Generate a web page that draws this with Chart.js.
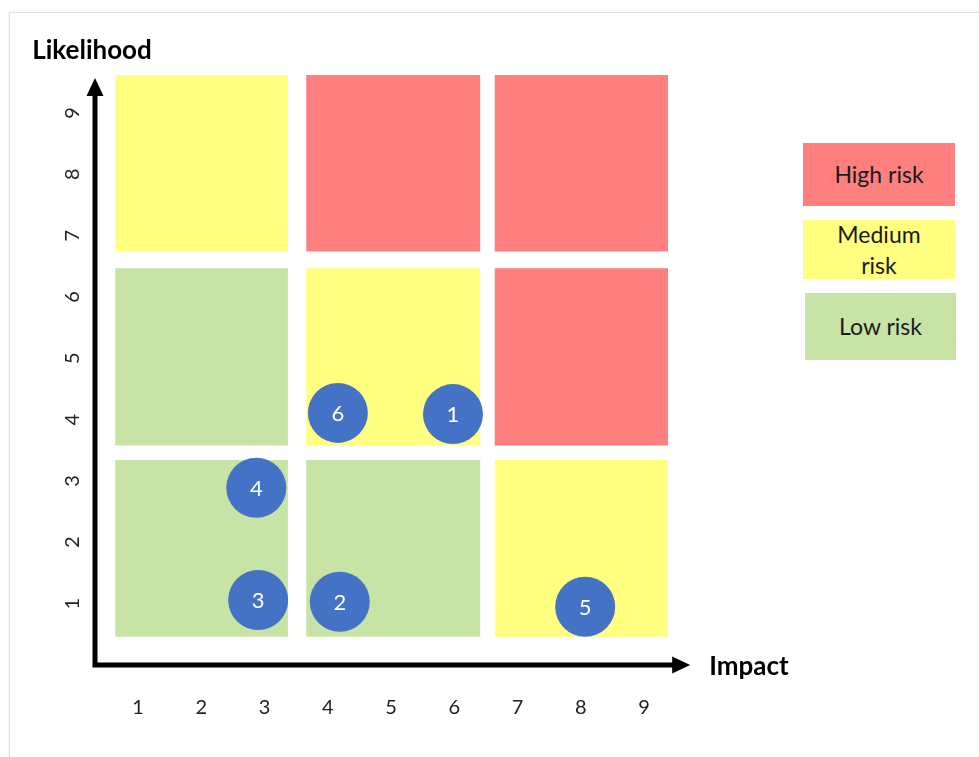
<!DOCTYPE html>
<html>
<head>
<meta charset="utf-8">
<title>Risk matrix</title>
<script src="https://cdn.jsdelivr.net/npm/chart.js@4.4.1/dist/chart.umd.min.js"></script>
<style>
  html, body { margin: 0; padding: 0; background: #fff; }
  body { width: 979px; height: 757px; position: relative; overflow: hidden; font-family: Lato, 'Open Sans', sans-serif; }
  .frame { position: absolute; left: 9px; top: 12px; right: -2px; bottom: -2px; border-top: 1px solid #e2e2e2; border-left: 1px solid #e2e2e2; box-shadow: -1px -1px 2px rgba(0,0,0,0.04); }
  #wrap { position: absolute; left: 0; top: 0; width: 979px; height: 757px; }
  .legend-box { position: absolute; display: flex; align-items: center; justify-content: center; text-align: center; font-size: 23px; line-height: 31px; color: #1a1a1a; }
  .legend-box span { max-width: 110px; }
</style>
</head>
<body>
<div class="frame"></div>
<div id="wrap"><canvas id="riskChart"></canvas></div>
<div id="legend"></div>
<script>
/* -------------------------
   Data
   ------------------------- */
const impactTicks = [1, 2, 3, 4, 5, 6, 7, 8, 9];
const likelihoodTicks = [1, 2, 3, 4, 5, 6, 7, 8, 9];

// extent of each band of cells, in axis units
const impactBands = [[0.64, 3.37], [3.66, 6.41], [6.64, 9.38]];
const likelihoodBands = [[0.46, 3.34], [3.58, 6.47], [6.74, 9.62]];

// risk level of each cell, bottom row first
const riskGrid = [
  ['low', 'low', 'medium'],
  ['low', 'medium', 'high'],
  ['medium', 'high', 'high']
];

// numbered risks
const riskIds = ['1', '6', '4', '3', '2', '5'];
const riskImpact = [5.98, 4.16, 2.87, 2.90, 4.19, 8.07];
const riskLikelihood = [4.09, 4.11, 2.89, 1.06, 1.03, 0.95];

const legendLevels = ['high', 'medium', 'low'];
const legendLabels = ['High risk', 'Medium risk', 'Low risk'];

const levelColors = { high: '#ff7f7f', medium: '#ffff80', low: '#c8e3a6' };
const bubbleColor = '#4472c4';
const fontFamily = "Lato, 'Open Sans', sans-serif";

/* -------------------------
   Legend (html boxes)
   ------------------------- */
const legendPos = [
  { left: 803, top: 143, width: 152, height: 63 },
  { left: 803, top: 220, width: 152, height: 59 },
  { left: 805, top: 293, width: 151, height: 67 }
];
const legendEl = document.getElementById('legend');
legendLevels.forEach((lvl, i) => {
  const box = document.createElement('div');
  box.className = 'legend-box';
  const p = legendPos[i];
  box.style.left = p.left + 'px';
  box.style.top = p.top + 'px';
  box.style.width = p.width + 'px';
  box.style.height = p.height + 'px';
  box.style.background = levelColors[lvl];
  const span = document.createElement('span');
  span.textContent = legendLabels[i];
  box.appendChild(span);
  legendEl.appendChild(box);
});

/* -------------------------
   Cells -> closed line shapes
   ------------------------- */
const cellSets = [];
likelihoodBands.forEach((yb, r) => {
  impactBands.forEach((xb, c) => {
    const lvl = riskGrid[r][c];
    cellSets.push({
      type: 'line',
      order: 1,
      data: [
        { x: xb[0], y: yb[0] },
        { x: xb[1], y: yb[0] },
        { x: xb[1], y: yb[1] },
        { x: xb[0], y: yb[1] },
        { x: xb[0], y: yb[0] }
      ],
      fill: 'shape',
      backgroundColor: levelColors[lvl],
      borderColor: 'transparent',
      borderWidth: 0,
      pointRadius: 0,
      tension: 0
    });
  });
});

const bubbleSet = {
  type: 'bubble',
  order: 0,
  data: riskIds.map((id, i) => ({ x: riskImpact[i], y: riskLikelihood[i] })),
  backgroundColor: bubbleColor,
  borderWidth: 0,
  radius: 30
};

/* -------------------------
   Plugins: arrows + titles, bubble numbers
   ------------------------- */
const arrowAxes = {
  id: 'arrowAxes',
  beforeDatasetsDraw(chart) {
    const { ctx, chartArea, scales } = chart;
    const x0 = chartArea.left;
    const y0 = chartArea.bottom;
    const tipX = scales.x.getPixelForValue(9.73);
    const tipY = scales.y.getPixelForValue(9.57);
    const head = 18, half = 8.5;
    ctx.save();
    ctx.strokeStyle = '#000';
    ctx.fillStyle = '#000';
    ctx.lineWidth = 5;
    ctx.lineJoin = 'miter';
    ctx.beginPath();
    ctx.moveTo(x0, tipY + head - 1);
    ctx.lineTo(x0, y0);
    ctx.lineTo(tipX - head + 1, y0);
    ctx.stroke();
    // heads
    ctx.beginPath();
    ctx.moveTo(tipX, y0);
    ctx.lineTo(tipX - head, y0 - half);
    ctx.lineTo(tipX - head, y0 + half);
    ctx.closePath();
    ctx.fill();
    ctx.beginPath();
    ctx.moveTo(x0, tipY);
    ctx.lineTo(x0 - half, tipY + head);
    ctx.lineTo(x0 + half, tipY + head);
    ctx.closePath();
    ctx.fill();
    // axis titles
    ctx.font = 'bold 26px ' + fontFamily;
    ctx.textBaseline = 'middle';
    ctx.textAlign = 'center';
    ctx.fillText('Likelihood', x0 - 3, tipY - 27);
    ctx.textAlign = 'left';
    ctx.fillText('Impact', tipX + 19, y0 + 2);
    ctx.restore();
  }
};

const bubbleNumbers = {
  id: 'bubbleNumbers',
  afterDatasetsDraw(chart) {
    const { ctx } = chart;
    const meta = chart.getDatasetMeta(chart.data.datasets.length - 1);
    ctx.save();
    ctx.font = '22px ' + fontFamily;
    ctx.fillStyle = '#fff';
    ctx.textAlign = 'center';
    ctx.textBaseline = 'middle';
    meta.data.forEach((pt, i) => ctx.fillText(riskIds[i], pt.x, pt.y + 1));
    ctx.restore();
  }
};

new Chart(document.getElementById('riskChart'), {
  type: 'scatter',
  data: { datasets: [...cellSets, bubbleSet] },
  options: {
    responsive: true,
    maintainAspectRatio: false,
    animation: false,
    events: [],
    layout: { padding: { top: 70, right: 284.4, left: 0, bottom: 0 } },
    plugins: { legend: { display: false }, tooltip: { enabled: false } },
    scales: {
      x: {
        type: 'linear',
        min: 0.32,
        max: 9.8,
        grid: { display: false },
        border: { display: false },
        afterBuildTicks: s => { s.ticks = impactTicks.map(v => ({ value: v })); },
        afterFit: s => { s.height = 92; },
        ticks: { padding: 23, color: '#222', autoSkip: false, maxRotation: 0, font: { family: fontFamily, size: 20 } }
      },
      y: {
        type: 'linear',
        min: 0,
        max: 9.7,
        grid: { display: false },
        border: { display: false },
        afterBuildTicks: s => { s.ticks = likelihoodTicks.map(v => ({ value: v })); },
        afterFit: s => { s.width = 95; },
        ticks: { padding: 9, color: '#222', autoSkip: false, minRotation: 90, maxRotation: 90, crossAlign: 'center', font: { family: fontFamily, size: 20 } }
      }
    }
  },
  plugins: [arrowAxes, bubbleNumbers]
});
</script>
</body>
</html>
